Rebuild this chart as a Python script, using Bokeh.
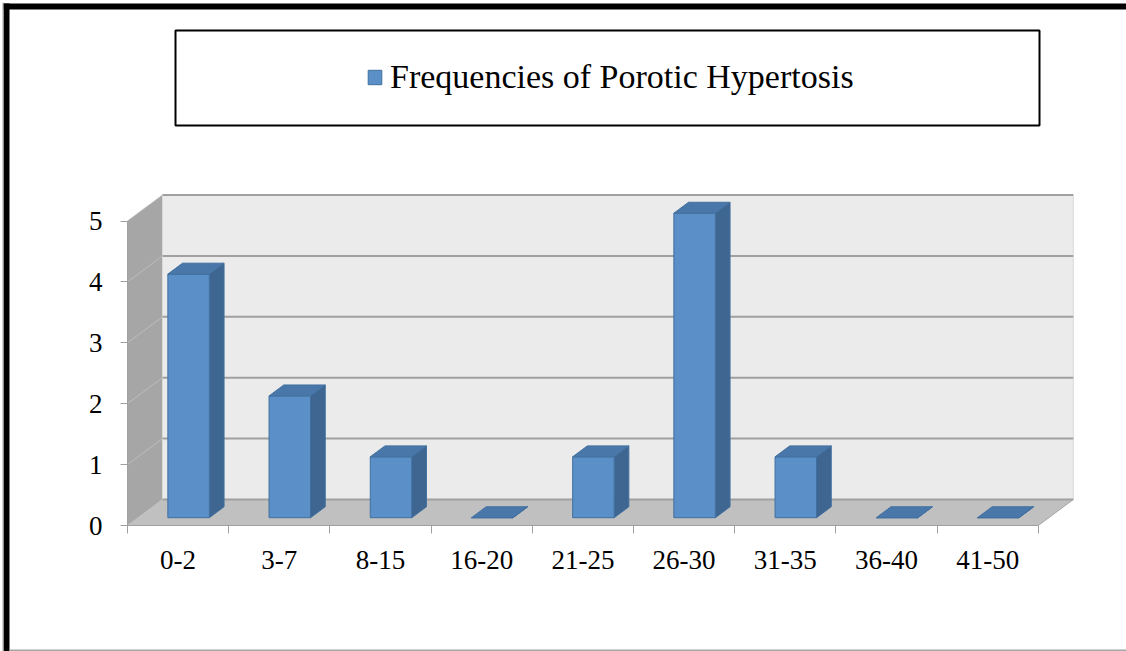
from bokeh.plotting import figure
from bokeh.models import (FixedTicker, LinearAxis, Range1d, Legend, LegendItem,
                          BoxAnnotation)
from bokeh.embed import file_html
from bokeh.resources import INLINE

# ---- data ----
categories = ["0-2", "3-7", "8-15", "16-20", "21-25", "26-30", "31-35", "36-40", "41-50"]
values = [4, 2, 1, 0, 1, 5, 1, 0, 0]
y_ticks = [0, 1, 2, 3, 4, 5]
series_name = "Frequencies of Porotic Hypertosis"

# ---- layout / 3D projection settings (style) ----
W, H = 1126, 651
N = len(categories)
YMAX = max(y_ticks)
PX_X = 101.2          # pixels per category
PX_Y = 60.9           # pixels per value unit
ORIGIN_X, ORIGIN_Y = 127, 525   # canvas pixel of the front-plane origin
DX = 35 / PX_X        # depth offset in category units
DY = 26 / PX_Y        # depth offset in value units
BW = 0.41             # bar width (fraction of category)
D0, D1 = 0.30, 0.72   # bar depth span (fraction of full depth)

FONT = "Liberation Serif"
FRONT = "#5b8fc7"
SIDE = "#3f6591"
TOP = "#4a77a9"
EDGE = "#41709f"

x_range = Range1d(-ORIGIN_X / PX_X, (W - ORIGIN_X) / PX_X)
y_range = Range1d(-(H - ORIGIN_Y) / PX_Y, ORIGIN_Y / PX_Y)

p = figure(width=W, height=H, output_backend="svg", toolbar_location=None,
           x_range=x_range, y_range=y_range,
           min_border=0, x_axis_type=None, y_axis_type=None)
p.grid.visible = False
p.outline_line_color = None
p.background_fill_color = "white"
p.border_fill_color = "white"

# walls and floor
p.patch([0, DX, DX, 0], [0, DY, YMAX + DY, YMAX], fill_color="#a6a6a6", line_color=None)
p.quad(left=[DX], right=[N + DX], bottom=[DY], top=[YMAX + DY],
       fill_color="#ebebeb", line_color="#d9d9d9", line_width=1)
p.patch([0, N, N + DX, DX], [0, 0, DY, DY], fill_color="#c0c0c0", line_color=None)

# grid lines on back wall and side wall
p.segment(x0=[DX] * len(y_ticks), y0=[t + DY for t in y_ticks],
          x1=[N + DX] * len(y_ticks), y1=[t + DY for t in y_ticks],
          line_color="#a0a0a0", line_width=2)
p.segment(x0=[0] * len(y_ticks), y0=y_ticks,
          x1=[DX] * len(y_ticks), y1=[t + DY for t in y_ticks],
          line_color="#bdbdbd", line_width=1)
p.segment(x0=[N], y0=[0], x1=[N + DX], y1=[DY], line_color="#a6a6a6", line_width=1)

# bars
xs_side, ys_side, xs_top, ys_top = [], [], [], []
fl, fr, fb, ft = [], [], [], []
for i, v in enumerate(values):
    x0 = i + 0.5 - BW / 2
    x1 = i + 0.5 + BW / 2
    fl.append(x0 + D0 * DX); fr.append(x1 + D0 * DX)
    fb.append(D0 * DY); ft.append(v + D0 * DY)
    xs_side.append([x1 + D0 * DX, x1 + D1 * DX, x1 + D1 * DX, x1 + D0 * DX])
    ys_side.append([D0 * DY, D1 * DY, v + D1 * DY, v + D0 * DY])
    xs_top.append([x0 + D0 * DX, x1 + D0 * DX, x1 + D1 * DX, x0 + D1 * DX])
    ys_top.append([v + D0 * DY, v + D0 * DY, v + D1 * DY, v + D1 * DY])

p.patches(xs_side, ys_side, fill_color=SIDE, line_color=EDGE, line_width=1)
front = p.quad(left=fl, right=fr, bottom=fb, top=ft,
               fill_color=FRONT, line_color=EDGE, line_width=1)
p.patches(xs_top, ys_top, fill_color=TOP, line_color=EDGE, line_width=1)

# axes (fixed at the front plane)
yax = LinearAxis(ticker=FixedTicker(ticks=y_ticks), bounds=(0, YMAX), fixed_location=0)
yax.axis_line_color = "#a0a0a0"
yax.major_tick_line_color = "#a0a0a0"
yax.major_tick_out = 7
yax.major_tick_in = 0
yax.minor_tick_line_color = None
yax.major_label_standoff = 18
yax.major_label_text_font = FONT
yax.major_label_text_font_size = "27px"
yax.major_label_text_color = "black"
p.add_layout(yax, "left")

centers = [i + 0.5 for i in range(N)]
xax = LinearAxis(ticker=FixedTicker(ticks=centers, minor_ticks=list(range(N + 1))),
                 bounds=(0, N), fixed_location=0)
xax.major_label_overrides = {c: lab for c, lab in zip(centers, categories)}
xax.axis_line_color = "#a0a0a0"
xax.major_tick_line_color = None
xax.major_tick_out = 0
xax.major_tick_in = 0
xax.minor_tick_line_color = "#a0a0a0"
xax.minor_tick_out = 8
xax.minor_tick_in = 0
xax.major_label_standoff = 17
xax.major_label_text_font = FONT
xax.major_label_text_font_size = "27px"
xax.major_label_text_color = "black"
p.add_layout(xax, "below")


def canvas_box(left, right, top, bottom, **kw):
    return BoxAnnotation(left=left, right=right, top=top, bottom=bottom,
                         left_units="canvas", right_units="canvas",
                         top_units="canvas", bottom_units="canvas", **kw)


# legend box + legend
p.add_layout(canvas_box(175, 1039, 30, 125, fill_color=None,
                        line_color="black", line_alpha=1, line_width=2))
legend = Legend(items=[LegendItem(label=series_name, renderers=[front])],
                location=(366, 554), orientation="horizontal",
                border_line_color=None, background_fill_alpha=0,
                padding=0, margin=0, glyph_width=17, glyph_height=18,
                label_height=40, label_standoff=7, label_text_font=FONT,
                label_text_font_size="34px", label_text_color="black")
p.add_layout(legend, "center")

# outer frame (left and top thick black, bottom thin grey)
p.add_layout(canvas_box(3, 9, 3, H, fill_color="black", fill_alpha=1, line_color=None))
p.add_layout(canvas_box(3, W, 3, 9, fill_color="black", fill_alpha=1, line_color=None))
p.add_layout(canvas_box(2, 3, 2, H, fill_color="#a6a6a6", fill_alpha=1, line_color=None))
p.add_layout(canvas_box(9, W, 649, H, fill_color="#a6a6a6", fill_alpha=1, line_color=None))

open("out.html", "w").write(file_html(p, INLINE))
